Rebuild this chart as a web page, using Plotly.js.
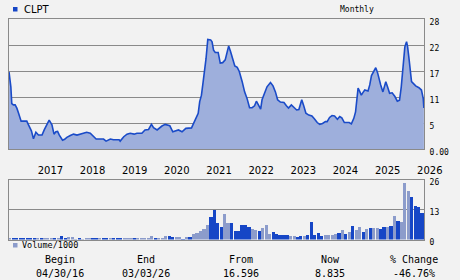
<!DOCTYPE html>
<html>
<head>
<meta charset="utf-8">
<script src="https://cdn.plot.ly/plotly-3.0.1.min.js"></script>
<style>
html,body{margin:0;padding:0;background:#f2f2f2;}
#chart{width:460px;height:280px;}
</style>
</head>
<body>
<div id="chart"></div>
<script>
// ---- data ----
const ticker = 'CLPT';
const periodLabel = 'Monthly';

const priceDates = [
'2016-04-30','2016-05-07','2016-05-16','2016-05-24','2016-06-07','2016-06-22','2016-07-07','2016-07-22','2016-08-13','2016-09-16',
'2016-10-01','2016-10-16','2016-11-10','2016-11-28','2016-12-19','2017-01-10','2017-02-10','2017-03-01','2017-03-22','2017-04-13',
'2017-05-07','2017-05-25','2017-06-10','2017-06-25','2017-07-10','2017-08-07','2017-08-25','2017-09-13','2017-10-13','2017-11-10',
'2017-12-10','2018-01-07','2018-02-07','2018-03-04','2018-04-04','2018-05-01','2018-05-25','2018-07-28','2018-08-19','2018-09-25',
'2018-10-22','2018-12-10','2018-12-19','2019-01-19','2019-02-16','2019-03-16','2019-04-19','2019-05-13','2019-06-25','2019-07-22',
'2019-08-22','2019-09-16','2019-10-04','2019-11-04','2019-12-16','2020-01-13','2020-02-22','2020-03-19','2020-04-25','2020-05-07',
'2020-06-07','2020-07-10','2020-08-28','2020-09-16','2020-10-07','2020-10-25','2020-11-07','2020-11-22','2020-12-07','2020-12-22',
'2021-01-01','2021-01-16','2021-02-10','2021-02-22','2021-03-07','2021-03-22','2021-04-16','2021-05-04','2021-05-25','2021-06-16',
'2021-07-01','2021-07-16','2021-08-01','2021-08-13','2021-09-07','2021-09-28','2021-10-16','2021-11-10','2021-12-01','2021-12-22',
'2022-01-13','2022-02-04','2022-02-25','2022-03-13','2022-04-01','2022-04-19','2022-05-01','2022-05-19','2022-06-13','2022-07-13',
'2022-08-04','2022-08-25','2022-09-13','2022-10-07','2022-11-07','2022-11-28','2022-12-16','2023-01-10','2023-02-01','2023-02-25',
'2023-03-16','2023-04-10','2023-04-25','2023-05-16','2023-06-10','2023-07-07','2023-07-28','2023-08-22','2023-09-13','2023-10-07',
'2023-11-01','2023-11-16','2023-12-07','2023-12-28','2024-01-19','2024-02-13','2024-03-04','2024-03-22','2024-04-13','2024-05-25',
'2024-06-13','2024-07-04','2024-07-19','2024-08-04','2024-08-10','2024-08-22','2024-09-07','2024-09-22','2024-10-07','2024-11-04',
'2024-11-19','2024-12-04','2024-12-25','2025-01-10','2025-01-25','2025-02-07','2025-02-22','2025-03-13','2025-03-25','2025-04-07',
'2025-04-22','2025-05-10','2025-06-01','2025-06-25','2025-07-16','2025-08-04','2025-08-19','2025-08-28','2025-09-10','2025-09-19',
'2025-10-04','2025-10-13','2025-10-25','2025-11-07','2025-11-16','2025-12-22','2026-01-19','2026-02-10','2026-02-25','2026-03-03'
];
const priceValues = [
16.6,15.6,13.4,9.8,9.5,9.5,8.8,7.7,6.0,6.0,
6.0,5.2,3.9,2.2,3.6,3.0,3.0,4.1,5.3,6.2,
5.2,3.2,3.7,3.8,3.0,1.9,2.1,2.5,2.9,3.2,
3.0,3.2,3.3,3.6,3.4,2.7,2.15,2.15,1.7,2.15,
2.0,2.0,1.7,2.65,3.2,3.4,3.2,3.4,3.4,4.1,
4.2,5.3,4.6,4.1,4.95,5.3,5.0,3.7,3.9,4.1,
3.7,4.45,4.55,5.5,6.6,7.7,10.2,11.6,14.5,17.0,
19.5,23.6,23.5,23.1,21.3,20.8,20.8,18.5,18.6,19.2,
20.6,22.2,21.0,19.9,17.9,17.6,16.7,14.5,12.3,10.9,
8.9,8.9,9.3,10.3,9.5,8.6,10.6,11.8,13.4,14.3,
13.6,12.3,10.6,10.1,10.0,9.3,8.8,9.5,9.0,8.4,
8.5,10.6,9.5,7.7,7.3,7.1,6.5,5.7,5.3,5.5,
5.9,5.9,6.8,7.2,7.1,6.4,7.0,6.7,5.7,5.7,
5.4,6.6,8.0,11.3,13.1,12.5,11.6,12.2,12.7,12.5,
13.8,15.8,16.7,17.5,16.5,15.1,13.8,12.3,13.6,14.5,
13.4,12.0,12.1,11.3,10.3,10.5,13.4,16.3,20.2,22.0,
23.1,22.0,19.5,16.3,14.5,13.6,13.2,12.7,10.9,8.835
];

// monthly volume (thousands), first month April 2016
const volStartYear = 2016, volStartMonth = 4;
const volValues = [
0.6,0.6,0.6,0.6,0.6,0.6,0.6,0.6,0.6,0.6,
0.6,0.6,0.6,0.6,0.6,1.5,0.6,0.9,0.9,0.4,
0.6,0.2,0.6,0.6,0.6,0.6,0.6,0.6,0.6,0.6,
0.6,0.6,0.6,0.6,0.6,0.6,0.6,0.6,0.6,0.6,
0.6,1.5,0.6,0.6,0.6,1.5,1.5,0.9,0.9,0.9,
0.4,0.9,0.9,2.3,2.9,3.7,4.5,6.2,9.6,12.6,
7.0,5.3,10.9,7.0,7.0,3.6,3.6,6.2,6.2,5.3,
4.5,4.0,3.6,4.9,6.2,2.3,3.2,2.3,1.9,1.9,
1.9,1.5,1.5,1.1,1.5,1.5,1.9,7.4,1.9,2.8,
1.5,1.9,1.9,1.9,2.3,2.8,4.0,2.3,3.2,5.7,
4.0,5.3,3.2,4.5,4.9,4.8,4.8,4.5,5.3,5.3,
5.7,10.4,7.9,7.4,24.5,21.1,18.5,14.7,14.3,11.3
];
const volDir = [
'D','U','U','U','U','U','U','U','D','U',
'D','D','D','U','D','U','U','D','D','D',
'U','D','D','D','U','U','D','U','U','D',
'U','U','U','D','D','D','U','D','D','D',
'D','D','U','D','D','D','U','U','D','D',
'U','D','U','D','D','D','D','D','U','U',
'U','U','D','D','U','U','U','U','U','U',
'D','D','U','D','D','D','U','U','U','U',
'U','D','D','U','U','D','U','U','U','U',
'U','D','D','D','D','U','D','U','D','U',
'D','D','U','D','U','D','D','U','U','D',
'U','D','U','D','D','D','U','U','U','U'
];

const yearTicks = ['2017','2018','2019','2020','2021','2022','2023','2024','2025','2026'];
const priceTickVals = [0,5.6,11.2,16.8,22.4,28];
const priceTickText = ['0.00','5','11','17','22','28'];
const volTickVals = [0,13,26];

const statHeads = ['Begin','End','From','Now','% Change'];
const statVals = ['04/30/16','03/03/26','16.596','8.835','-46.76%'];

// ---- build ----
const W = 460, H = 280;
const px = v => v / W;
const py = v => 1 - v / H;

const volMonths = volValues.map((_, i) => {
  const d = new Date(Date.UTC(volStartYear, volStartMonth - 1 + i, 15));
  return d.toISOString().slice(0, 10);
});

const DARK = '#1646c6', LIGHT = '#8c9ccb';
const GRID = '#8a8a8a';
const MONO = '"DejaVu Sans Mono", monospace';
const SANS = '"DejaVu Sans", sans-serif';

const priceTrace = {
  x: priceDates, y: priceValues, type: 'scatter', mode: 'lines',
  line: {color: '#1a4bc8', width: 1.6, shape: 'linear'},
  fill: 'tozeroy', fillcolor: '#9eafdc',
  xaxis: 'x', yaxis: 'y', hoverinfo: 'skip', showlegend: false
};
const volTrace = {
  x: volMonths, y: volValues, type: 'bar',
  marker: {color: volDir.map(d => d === 'U' ? DARK : LIGHT), line: {width: 0}},
  xaxis: 'x2', yaxis: 'y2', hoverinfo: 'skip', showlegend: false
};

const annotations = [
  {text: ticker, x: px(22), y: py(9), xanchor: 'left', yanchor: 'middle', font: {family: SANS, size: 10, color: '#000'}},
  {text: periodLabel, x: px(357), y: py(9), xanchor: 'center', yanchor: 'middle', font: {family: MONO, size: 8, color: '#000'}},
  {text: 'Volume/1000', x: px(20), y: py(245), xanchor: 'left', yanchor: 'middle', font: {family: MONO, size: 8.5, color: '#000'}}
];
const headX = [60, 146, 241, 330, 414];
statHeads.forEach((t, i) => {
  annotations.push({text: t, x: px(headX[i]), y: py(259), xanchor: 'center', yanchor: 'middle', font: {family: MONO, size: 10, color: '#000'}});
  annotations.push({text: statVals[i], x: px(headX[i]), y: py(273), xanchor: 'center', yanchor: 'middle', font: {family: MONO, size: 10, color: '#000'}});
});
annotations.forEach(a => { a.xref = 'paper'; a.yref = 'paper'; a.showarrow = false; });

const shapes = [
  {type: 'rect', xref: 'paper', yref: 'paper', x0: px(13), x1: px(17.5), y0: py(11.5), y1: py(7), fillcolor: DARK, line: {width: 0}},
  {type: 'rect', xref: 'paper', yref: 'paper', x0: px(13), x1: px(17.5), y0: py(247.5), y1: py(243), fillcolor: LIGHT, line: {width: 0}}
];

const xDom = [px(9), px(424)];
const layout = {
  width: W, height: H,
  margin: {l: 0, r: 0, t: 0, b: 0},
  paper_bgcolor: '#f2f2f2', plot_bgcolor: '#f2f2f2',
  showlegend: false, bargap: 0,
  xaxis: {
    domain: xDom, anchor: 'y', type: 'date',
    range: ['2016-04-30', '2026-03-04'],
    tickvals: yearTicks.map(y => y + '-01-01'), ticktext: yearTicks,
    ticks: 'outside', ticklen: 12, tickcolor: 'rgba(0,0,0,0)',
    ticklabelshift: 13,
    tickfont: {family: SANS, size: 10, color: '#000'},
    showgrid: false, zeroline: false,
    showline: true, mirror: true, linecolor: GRID, linewidth: 1
  },
  yaxis: {
    domain: [py(149), py(19)], anchor: 'x', side: 'right',
    range: [0, 28], tickvals: priceTickVals, ticktext: priceTickText,
    ticks: 'outside', ticklen: 3, tickcolor: 'rgba(0,0,0,0)',
    ticklabelshift: 3,
    tickfont: {family: MONO, size: 8, color: '#000'},
    showgrid: true, gridcolor: GRID, gridwidth: 1, zeroline: false,
    showline: true, mirror: true, linecolor: GRID, linewidth: 1
  },
  xaxis2: {
    domain: xDom, anchor: 'y2', type: 'date',
    range: ['2016-04-08', '2026-04-01'],
    showticklabels: false, ticks: '', showgrid: false, zeroline: false,
    showline: true, mirror: true, linecolor: GRID, linewidth: 1
  },
  yaxis2: {
    domain: [py(239.5), py(179.5)], anchor: 'x2', side: 'right',
    range: [0, 26], tickvals: volTickVals, ticktext: volTickVals.map(String),
    ticks: 'outside', ticklen: 3, tickcolor: 'rgba(0,0,0,0)',
    ticklabelshift: 3,
    tickfont: {family: MONO, size: 8, color: '#000'},
    showgrid: true, gridcolor: GRID, gridwidth: 1, zeroline: false,
    showline: true, mirror: true, linecolor: GRID, linewidth: 1
  },
  annotations: annotations,
  shapes: shapes
};

Plotly.newPlot('chart', [priceTrace, volTrace], layout, {staticPlot: true, displayModeBar: false});
</script>
</body>
</html>
